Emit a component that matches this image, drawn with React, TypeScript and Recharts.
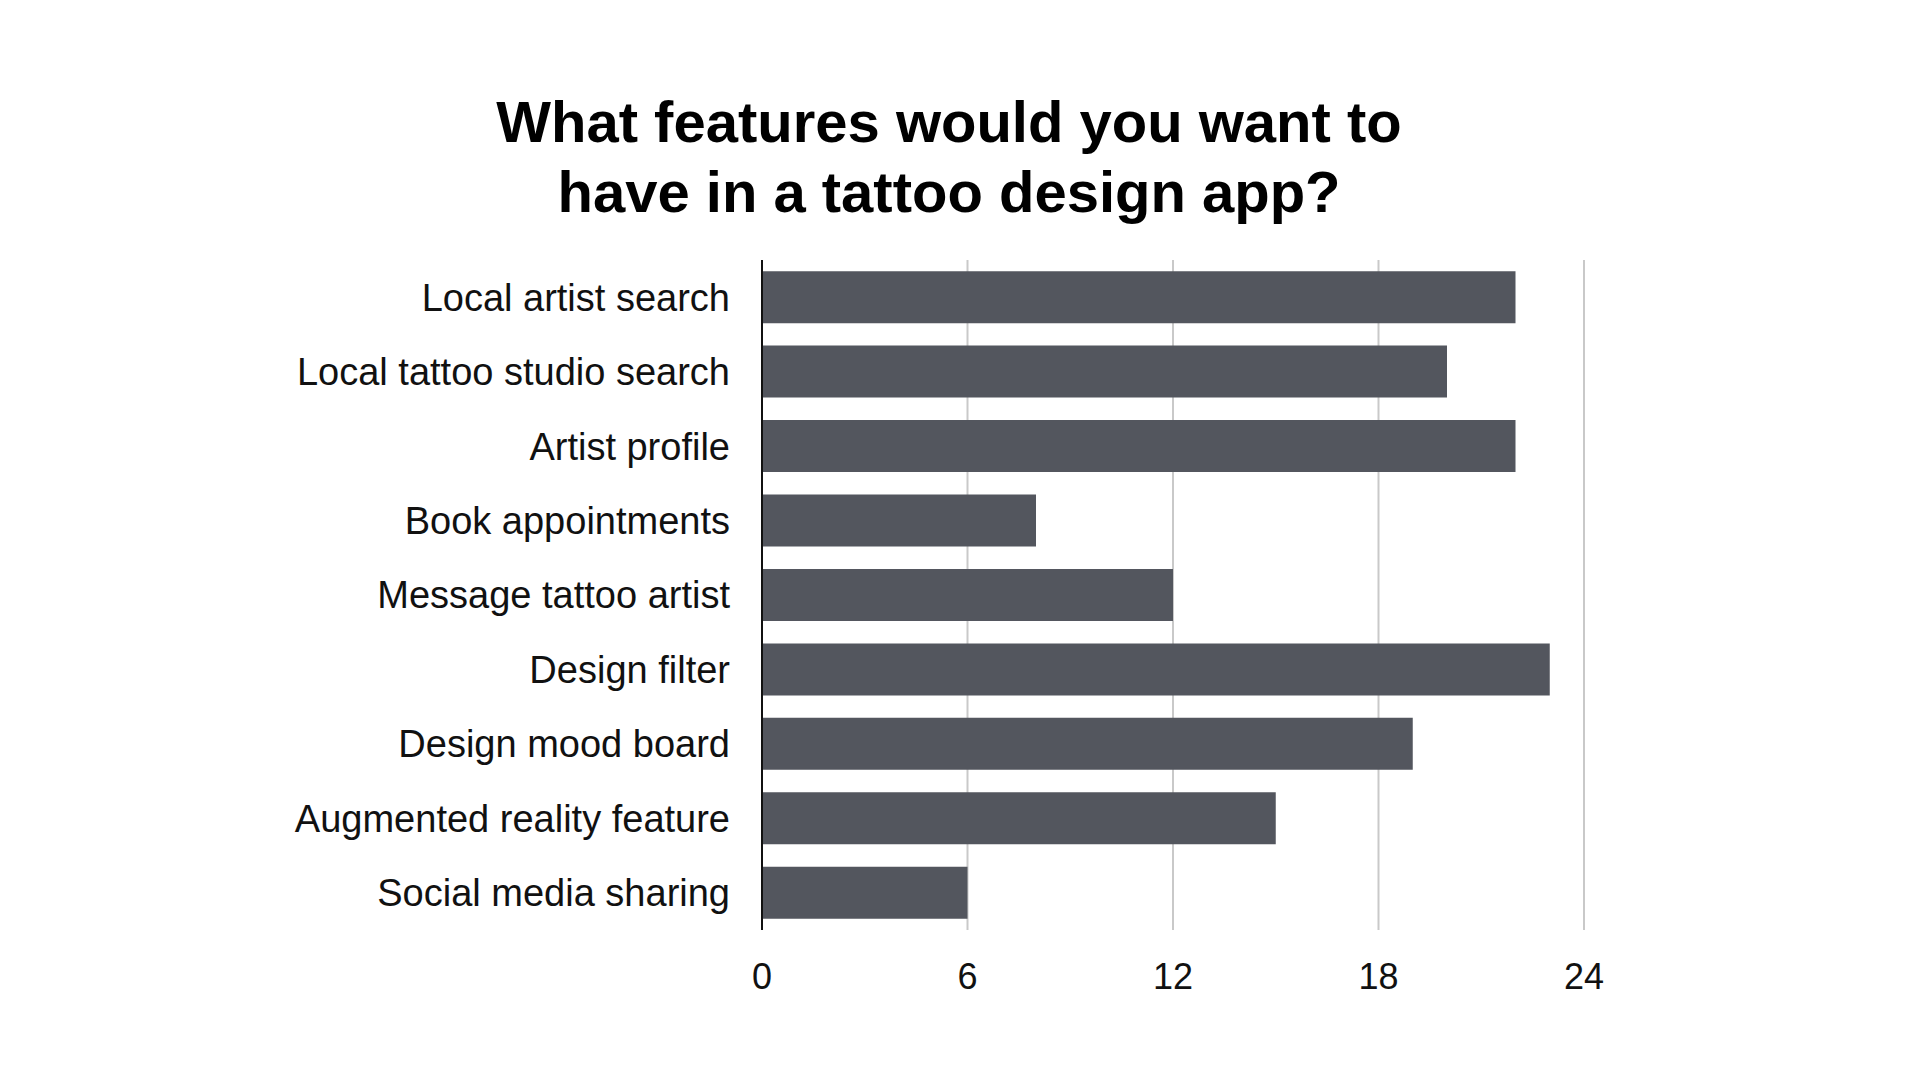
import { BarChart, Bar, XAxis, YAxis, CartesianGrid } from 'recharts';

const features = [
    "Local artist search",
    "Local tattoo studio search",
    "Artist profile",
    "Book appointments",
    "Message tattoo artist",
    "Design filter",
    "Design mood board",
    "Augmented reality feature",
    "Social media sharing",
];
const votes = [22, 20, 22, 8, 12, 23, 19, 15, 6];
const xTicks = [0, 6, 12, 18, 24];

const data = features.map((name, i) => ({ name, votes: votes[i] }));

const font = '"Liberation Sans", Arial, sans-serif';

export default function App() {
    return (
        <div style={{ position: 'absolute', left: 0, top: 0, width: 1920, height: 1080, background: '#fff', fontFamily: font }}>
            <div style={{ position: 'absolute', left: 0, top: 87, width: 1898, textAlign: 'center', fontSize: 58, lineHeight: '70px', fontWeight: 'bold', color: '#000' }}>
                What features would you want to<br />have in a tattoo design app?
            </div>
            <BarChart
                width={1920}
                height={1080}
                data={data}
                layout="vertical"
                margin={{ top: 260, right: 336, bottom: 90, left: 0 }}
                barCategoryGap="15%"
            >
                <CartesianGrid horizontal={false} stroke="#c9c9c9" strokeWidth={2} />
                <XAxis
                    type="number"
                    domain={[0, 24]}
                    ticks={xTicks}
                    axisLine={false}
                    tickLine={false}
                    height={60}
                    tickMargin={27}
                    tick={{ fill: '#111', fontSize: 36, fontFamily: font }}
                />
                <YAxis
                    type="category"
                    dataKey="name"
                    width={762}
                    axisLine={{ stroke: '#111', strokeWidth: 2 }}
                    tickLine={false}
                    tickMargin={26}
                    tick={{ fill: '#111', fontSize: 38, fontFamily: font }}
                    interval={0}
                />
                <Bar dataKey="votes" fill="#53565e" isAnimationActive={false} />
            </BarChart>
        </div>
    );
}
